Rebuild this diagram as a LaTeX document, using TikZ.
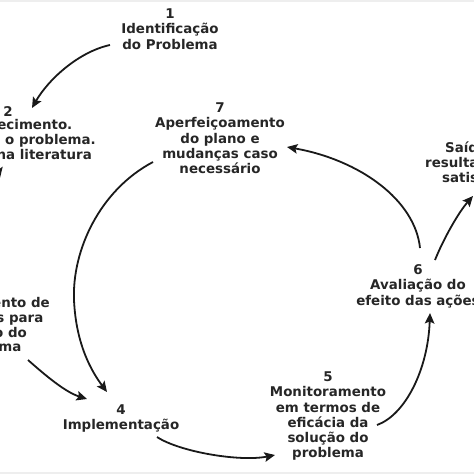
\documentclass[tikz,border=0pt]{standalone}
\usepackage{fontspec}
\setmainfont{DejaVu Sans}
\usetikzlibrary{arrows.meta}
\definecolor{txt}{HTML}{262626}
\definecolor{band}{HTML}{EEEEEE}
\begin{document}
\begin{tikzpicture}[x=1pt,y=-1pt,
  lbl/.style={align=center,inner sep=0pt,text=txt,font=\fontsize{13.4}{15.3}\selectfont\bfseries},
  frag/.style={inner sep=0pt,text=txt,font=\fontsize{13.4}{15.3}\selectfont\bfseries},
  arr/.style={line width=1.8pt,draw=black!90,-{Stealth[length=10.5pt,width=9.5pt,inset=2pt]}}]
\useasboundingbox (0,0) rectangle (474,474);
\fill[band] (0,0) rectangle (474,1.8);
\fill[band] (0,472) rectangle (474,474);
% nodes
\node[lbl,anchor=north] (n1) at (170,8.5) {1\\Identificação\\do Problema};
\node[lbl,anchor=north] (n7) at (220,102.5) {7\\Aperfeiçoamento\\do plano e\\mudanças caso\\necessário};
\node[lbl,anchor=north] (n4) at (121,404.5) {4\\Implementação};
\node[lbl,anchor=north] (n5) at (328,371.5) {5\\Monitoramento\\em termos de\\eficácia da\\solução do\\problema};
\node[lbl,anchor=north] (n6) at (418,264.5) {6\\Avaliação do\\efeito das ações};
% node 2 (cut at the left edge)
\node[frag,anchor=base] (n2) at (8,116.5) {2};
\node[frag,anchor=base east] (n2a) at (72.5,129) {ecimento.};
\node[frag,anchor=base east] (n2b) at (96,144) {e o problema.};
\node[frag,anchor=base east] (n2c) at (92,159) {na literatura};
% node 3 (cut at the left edge)
\node[frag,anchor=base east] (n3a) at (50,307) {ento de};
\node[frag,anchor=base east] (n3b) at (43.5,322) {s para};
\node[frag,anchor=base east] (n3c) at (27,337) {o do};
\node[frag,anchor=base east] (n3d) at (21.5,351) {ma};
% exit node (cut at the right edge)
\node[frag,anchor=base west] (s1) at (445,152) {Saíd};
\node[frag,anchor=base west] (s2) at (425,167.5) {resulta};
\node[frag,anchor=base west] (s3) at (442,182.5) {satis};
% connector end points
\coordinate (a1s) at (110,45);  \coordinate (a1e) at (32,108);
\coordinate (a2s) at (-4,158);  \coordinate (a2e) at (0,178);
\coordinate (a3s) at (28,360);  \coordinate (a3e) at (87,399);
\coordinate (a7s) at (153,162); \coordinate (a7m) at (74,300); \coordinate (a7e) at (107,392);
\coordinate (a4s) at (157,437); \coordinate (a4e) at (275,455);
\coordinate (a5s) at (377,425); \coordinate (a5e) at (430,313);
\coordinate (a6s) at (420,248); \coordinate (a6e) at (287,147);
\coordinate (a8s) at (435,260); \coordinate (a8e) at (473,196);
% connectors
\draw[arr] (a1s) .. controls (78,52) and (48,80) .. (a1e);
\draw[arr] (a2s) -- (a2e);
\draw[arr] (a3s) .. controls (45,375) and (65,392) .. (a3e);
\draw[arr] (a7s) .. controls (100,190) and (72,250) .. (a7m) .. controls (76,345) and (92,372) .. (a7e);
\draw[arr] (a4s) .. controls (180,452) and (240,462) .. (a4e);
\draw[arr] (a5s) .. controls (405,415) and (428,370) .. (a5e);
\draw[arr] (a6s) .. controls (415,200) and (360,160) .. (a6e);
\draw[arr] (a8s) .. controls (443,240) and (458,213) .. (a8e);
\end{tikzpicture}
\end{document}
